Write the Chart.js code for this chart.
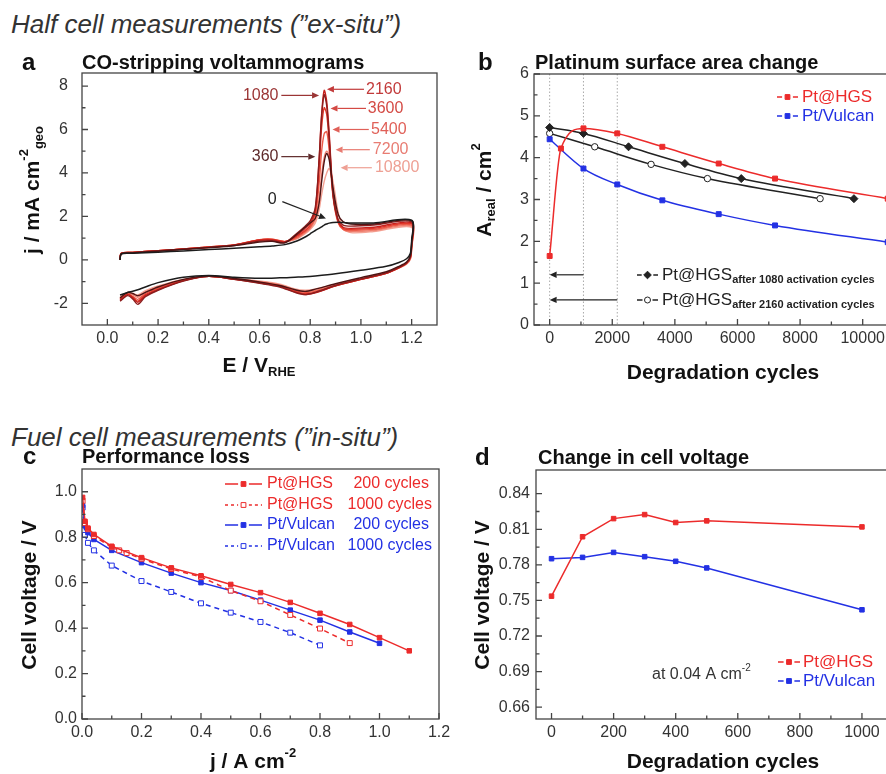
<!DOCTYPE html>
<html>
<head>
<meta charset="utf-8">
<script src="https://cdn.jsdelivr.net/npm/chart.js@4.4.1/dist/chart.umd.min.js"></script>
<style>
  html, body { margin: 0; padding: 0; background: #fff; }
  body { width: 886px; height: 774px; position: relative; overflow: hidden; }
  .sec { position: absolute; left: 11px; font: italic 26px "Liberation Sans", Arial, sans-serif; color: #333; white-space: nowrap; }
  .box { position: absolute; }
</style>
</head>
<body>
<div class="sec" style="top:9px">Half cell measurements (”ex-situ”)</div>
<div class="sec" style="top:422px">Fuel cell measurements (”in-situ”)</div>
<div class="box" style="left:0;top:0;width:443px;height:415px"><canvas id="chartA"></canvas></div>
<div class="box" style="left:443px;top:0;width:460px;height:415px"><canvas id="chartB"></canvas></div>
<div class="box" style="left:443px;top:415px;width:460px;height:359px"><canvas id="chartD"></canvas></div>
<div class="box" style="left:0;top:415px;width:460px;height:359px"><canvas id="chartC"></canvas></div>
<script>
// ---- panel a: CO-stripping voltammograms (potential in V, current in mA cm-2)
const cvPotAnodic = [0.05, 0.055, 0.1, 0.2, 0.3, 0.4, 0.5, 0.6, 0.65, 0.7, 0.75, 0.78, 0.8, 0.82, 0.835, 0.845, 0.855, 0.865, 0.875, 0.89, 0.91, 0.93, 0.96, 1.05, 1.2];
const cvPotCathodic = [1.2, 1.195, 1.18, 1.15, 1.1, 1.0, 0.9, 0.82, 0.78, 0.74, 0.68, 0.6, 0.5, 0.4, 0.3, 0.2, 0.15, 0.12, 0.1, 0.08, 0.05];
const cvCycles = [0, 360, 1080, 2160, 3600, 5400, 7200, 10800];
const cvAnodic0     = [0.0, 0.27, 0.3, 0.35, 0.41, 0.47, 0.53, 0.6, 0.64, 0.7, 0.88, 1.05, 1.2, 1.35, 1.45, 1.52, 1.6, 1.65, 1.69, 1.72, 1.73, 1.72, 1.7, 1.7, 1.82];
const cvAnodic360   = [0.0, 0.28, 0.32, 0.4, 0.48, 0.56, 0.65, 0.82, 0.85, 0.78, 1.2, 1.5, 1.7, 1.9, 2.6, 3.6, 4.5, 4.9, 4.6, 3.3, 2.1, 1.75, 1.65, 1.65, 1.8];
const cvAnodic1080  = [0.0, 0.29, 0.33, 0.41, 0.49, 0.57, 0.67, 0.86, 0.88, 0.8, 1.25, 1.55, 1.8, 2.4, 4.6, 6.6, 7.6, 7.1, 5.6, 3.0, 1.85, 1.6, 1.55, 1.6, 1.75];
const cvAnodic2160  = [0.0, 0.3, 0.34, 0.42, 0.5, 0.58, 0.68, 0.9, 0.92, 0.82, 1.15, 1.45, 1.7, 2.3, 4.6, 6.7, 7.8, 7.3, 5.8, 3.1, 1.8, 1.5, 1.45, 1.5, 1.7];
const cvAnodic3600  = [0.0, 0.3, 0.34, 0.42, 0.5, 0.59, 0.69, 0.92, 0.94, 0.84, 1.1, 1.35, 1.6, 2.2, 4.2, 6.1, 7.0, 6.7, 5.4, 3.0, 1.75, 1.45, 1.4, 1.45, 1.65];
const cvAnodic5400  = [0.0, 0.3, 0.34, 0.42, 0.5, 0.59, 0.69, 0.93, 0.95, 0.85, 1.05, 1.3, 1.5, 2.0, 3.5, 5.0, 5.8, 5.9, 5.0, 2.9, 1.7, 1.4, 1.35, 1.4, 1.6];
const cvAnodic7200  = [0.0, 0.3, 0.34, 0.42, 0.5, 0.59, 0.69, 0.92, 0.94, 0.84, 1.0, 1.25, 1.45, 1.85, 2.8, 3.9, 4.7, 5.0, 4.8, 3.2, 1.8, 1.4, 1.3, 1.35, 1.55];
const cvAnodic10800 = [0.0, 0.3, 0.34, 0.42, 0.5, 0.58, 0.68, 0.9, 0.92, 0.83, 0.98, 1.2, 1.4, 1.7, 2.3, 3.0, 3.6, 4.0, 4.2, 3.6, 2.2, 1.45, 1.25, 1.3, 1.5];
const cvCathodic0     = [0.9, 0.3, 0.05, -0.12, -0.3, -0.48, -0.64, -0.74, -0.78, -0.8, -0.83, -0.85, -0.8, -0.72, -0.8, -1.05, -1.25, -1.38, -1.45, -1.5, -1.62];
const cvCathodic360   = [0.8, 0.2, -0.1, -0.3, -0.55, -0.82, -1.1, -1.35, -1.45, -1.38, -1.18, -1.02, -0.86, -0.74, -0.9, -1.25, -1.5, -1.65, -1.55, -1.5, -1.75];
const cvCathodic1080  = [0.75, 0.15, -0.15, -0.35, -0.6, -0.88, -1.18, -1.5, -1.6, -1.5, -1.25, -1.08, -0.9, -0.76, -0.98, -1.4, -1.7, -2.05, -1.8, -1.65, -1.9];
const cvCathodic2160  = [0.7, 0.12, -0.15, -0.36, -0.62, -0.9, -1.2, -1.52, -1.6, -1.48, -1.22, -1.06, -0.9, -0.76, -0.96, -1.38, -1.65, -1.95, -1.75, -1.6, -1.85];
const cvCathodic3600  = [0.65, 0.1, -0.16, -0.36, -0.62, -0.9, -1.2, -1.5, -1.55, -1.45, -1.2, -1.05, -0.89, -0.76, -0.95, -1.35, -1.6, -1.9, -1.72, -1.58, -1.82];
const cvCathodic5400  = [0.6, 0.08, -0.17, -0.37, -0.62, -0.9, -1.18, -1.45, -1.5, -1.42, -1.18, -1.03, -0.88, -0.76, -0.93, -1.3, -1.55, -1.82, -1.68, -1.55, -1.8];
const cvCathodic7200  = [0.55, 0.05, -0.18, -0.37, -0.6, -0.88, -1.15, -1.4, -1.45, -1.38, -1.15, -1.0, -0.87, -0.76, -0.92, -1.25, -1.48, -1.72, -1.6, -1.52, -1.75];
const cvCathodic10800 = [0.5, 0.02, -0.2, -0.38, -0.6, -0.86, -1.12, -1.35, -1.4, -1.34, -1.12, -0.98, -0.86, -0.75, -0.9, -1.2, -1.42, -1.62, -1.55, -1.5, -1.7];
const cvColors = ['#1c1c1c', '#4e1414', '#8c1d1d', '#c8211d', '#e2382a', '#ec5c4a', '#f08272', '#f4a294'];
const cvXTicks = [0, 0.2, 0.4, 0.6, 0.8, 1.0, 1.2];
const cvYTicks = [-2, 0, 2, 4, 6, 8];

// ---- panel b: platinum surface area vs degradation cycles
const hgsCycles = [0, 360, 1080, 2160, 3600, 5400, 7200, 10800];
const hgsArea = [1.65, 4.22, 4.70, 4.58, 4.26, 3.86, 3.50, 3.02];
const vulcanCycles = [0, 1080, 2160, 3600, 5400, 7200, 10800];
const vulcanArea = [4.44, 3.74, 3.36, 2.98, 2.65, 2.38, 1.98];
const act1080Cycles = [0, 1080, 2520, 4320, 6120, 9720];
const act1080Area = [4.72, 4.58, 4.26, 3.86, 3.50, 3.02];
const act2160Cycles = [0, 1440, 3240, 5040, 8640];
const act2160Area = [4.58, 4.26, 3.84, 3.50, 3.02];
const areaXTicks = [0, 2000, 4000, 6000, 8000, 10000];
const areaYTicks = [0, 1, 2, 3, 4, 5, 6];

// ---- panel c: polarisation curves
const jHgs200 = [0.002, 0.01, 0.02, 0.04, 0.1, 0.2, 0.3, 0.4, 0.5, 0.6, 0.7, 0.8, 0.9, 1.0, 1.1];
const vHgs200 = [0.975, 0.87, 0.84, 0.812, 0.76, 0.71, 0.665, 0.63, 0.592, 0.556, 0.513, 0.465, 0.416, 0.358, 0.30];
const jHgs1000 = [0.002, 0.01, 0.02, 0.04, 0.1, 0.125, 0.15, 0.2, 0.3, 0.4, 0.5, 0.6, 0.7, 0.8, 0.9];
const vHgs1000 = [0.96, 0.862, 0.835, 0.805, 0.756, 0.742, 0.73, 0.705, 0.66, 0.625, 0.565, 0.518, 0.458, 0.398, 0.334];
const jVul200 = [0.002, 0.01, 0.02, 0.04, 0.1, 0.2, 0.3, 0.4, 0.5, 0.6, 0.7, 0.8, 0.9, 1.0];
const vVul200 = [0.94, 0.85, 0.82, 0.79, 0.742, 0.688, 0.642, 0.60, 0.565, 0.523, 0.479, 0.435, 0.383, 0.333];
const jVul1000 = [0.002, 0.01, 0.02, 0.04, 0.1, 0.2, 0.3, 0.4, 0.5, 0.6, 0.7, 0.8];
const vVul1000 = [0.93, 0.81, 0.775, 0.742, 0.675, 0.607, 0.559, 0.509, 0.468, 0.427, 0.38, 0.324];
const polXTicks = [0, 0.2, 0.4, 0.6, 0.8, 1.0, 1.2];
const polYTicks = [0, 0.2, 0.4, 0.6, 0.8, 1.0];

// ---- panel d: cell voltage at 0.04 A cm-2
const voltCycles = [0, 100, 200, 300, 400, 500, 1000];
const voltHgs = [0.7536, 0.8037, 0.819, 0.8224, 0.8157, 0.8171, 0.812];
const voltVulcan = [0.7852, 0.7863, 0.7905, 0.7869, 0.783, 0.7774, 0.7421];
const voltXTicks = [0, 200, 400, 600, 800, 1000];
const voltYTicks = [0.66, 0.69, 0.72, 0.75, 0.78, 0.81, 0.84];

const FONT = '"Liberation Sans", Arial, sans-serif';
const RED = '#ec2b2b', BLUE = '#2331e4', INK = '#222';

const pts = (xs, ys) => xs.map((x, i) => ({ x, y: ys[i] }));
const fontOf = (size, bold, italic) => (italic ? 'italic ' : '') + (bold ? 'bold ' : '') + size + 'px ' + FONT;

function drawRich(ctx, segs, x, y, o) {
  const size = o.size || 16;
  ctx.save();
  const parts = segs.map(s => {
    const k = s[1] || '';
    const sz = k ? Math.round(size * (o.small || 0.62)) : size;
    const bold = s[2] !== undefined ? s[2] : !!o.bold;
    const font = fontOf(sz, bold, o.italic);
    ctx.font = font;
    return { t: s[0], k, font, w: ctx.measureText(s[0]).width };
  });
  const total = parts.reduce((a, p) => a + p.w, 0);
  ctx.translate(x, y);
  if (o.rotate) ctx.rotate(-Math.PI / 2);
  let cx = o.align === 'center' ? -total / 2 : o.align === 'right' ? -total : 0;
  ctx.fillStyle = o.color || INK;
  ctx.textBaseline = 'middle';
  ctx.textAlign = 'left';
  parts.forEach(p => {
    ctx.font = p.font;
    const dy = p.k === 'sup' ? -size * 0.42 : p.k === 'sub' ? size * 0.32 : 0;
    ctx.fillText(p.t, cx, dy);
    cx += p.w;
  });
  ctx.restore();
}

function drawMarker(ctx, style, x, y, r, color, filled) {
  ctx.beginPath();
  if (style === 'rect') { const s = r * Math.SQRT1_2; ctx.rect(x - s, y - s, 2 * s, 2 * s); }
  else if (style === 'rectRot') { ctx.moveTo(x, y - r); ctx.lineTo(x + r, y); ctx.lineTo(x, y + r); ctx.lineTo(x - r, y); ctx.closePath(); }
  else ctx.arc(x, y, r, 0, 2 * Math.PI);
  ctx.fillStyle = filled ? color : '#fff';
  ctx.fill();
  ctx.strokeStyle = color;
  ctx.lineWidth = 1;
  ctx.stroke();
}

function arrow(ctx, x1, y1, x2, y2, color) {
  const a = Math.atan2(y2 - y1, x2 - x1), L = 7, W = 3.2;
  ctx.save();
  ctx.strokeStyle = color; ctx.fillStyle = color; ctx.lineWidth = 1.2;
  ctx.beginPath(); ctx.moveTo(x1, y1); ctx.lineTo(x2 - L * Math.cos(a), y2 - L * Math.sin(a)); ctx.stroke();
  ctx.beginPath();
  ctx.moveTo(x2, y2);
  ctx.lineTo(x2 - L * Math.cos(a) + W * Math.sin(a), y2 - L * Math.sin(a) - W * Math.cos(a));
  ctx.lineTo(x2 - L * Math.cos(a) - W * Math.sin(a), y2 - L * Math.sin(a) + W * Math.cos(a));
  ctx.closePath(); ctx.fill();
  ctx.restore();
}

// box, inward ticks, titles, legends and notes drawn on top of each chart
function deco(spec) {
  return {
    id: 'deco',
    beforeDatasetsDraw(chart) {
      const { ctx, chartArea: a, scales } = chart;
      (spec.vlines || []).forEach(v => {
        const x = scales.x.getPixelForValue(v);
        ctx.save();
        ctx.strokeStyle = '#aaa'; ctx.lineWidth = 1; ctx.setLineDash([1.5, 2]);
        ctx.beginPath(); ctx.moveTo(x, a.top); ctx.lineTo(x, a.bottom); ctx.stroke();
        ctx.restore();
      });
    },
    afterDraw(chart) {
      const { ctx, chartArea: a, scales } = chart;
      const X = v => scales.x.getPixelForValue(v), Y = v => scales.y.getPixelForValue(v);
      ctx.save();
      ctx.strokeStyle = '#444'; ctx.lineWidth = 1.3;
      ctx.strokeRect(a.left, a.top, a.right - a.left, a.bottom - a.top);
      ctx.beginPath();
      const tk = (vals, len, horiz) => vals.forEach(v => {
        if (horiz) { const x = X(v); ctx.moveTo(x, a.bottom); ctx.lineTo(x, a.bottom - len); }
        else { const y = Y(v); ctx.moveTo(a.left, y); ctx.lineTo(a.left + len, y); }
      });
      tk(spec.xMajor, 6, true); tk(spec.xMinor || [], 3.5, true);
      tk(spec.yMajor, 6, false); tk(spec.yMinor || [], 3.5, false);
      ctx.stroke();
      ctx.restore();

      drawRich(ctx, [[spec.letter]], spec.letterPos[0], spec.letterPos[1], { size: 24, bold: true, color: '#111' });
      drawRich(ctx, [[spec.title]], spec.titlePos[0], spec.titlePos[1], { size: 20, bold: true, color: '#111' });
      drawRich(ctx, spec.xTitle, spec.xTitlePos[0], spec.xTitlePos[1], { size: 21, bold: true, align: 'center', color: '#111' });
      drawRich(ctx, spec.yTitle, spec.yTitlePos[0], spec.yTitlePos[1], { size: 21, bold: true, align: 'center', rotate: true, color: '#111' });

      (spec.arrows || []).forEach(r => arrow(ctx, X(r.from[0]), Y(r.from[1]), X(r.to[0]), Y(r.to[1]), r.color));
      (spec.notes || []).forEach(n => {
        const x = n.data ? X(n.at[0]) : n.at[0], y = n.data ? Y(n.at[1]) : n.at[1];
        drawRich(ctx, n.segs, x, y, { size: n.size || 16, align: n.align || 'left', color: n.color });
      });
      (spec.legend || []).forEach(e => {
        const r = e.r || 3, mid = (e.x1 + e.x2) / 2, gap = r + 2;
        ctx.save();
        ctx.strokeStyle = e.color; ctx.lineWidth = 1.5;
        if (e.dash) ctx.setLineDash(e.dash);
        ctx.beginPath();
        ctx.moveTo(e.x1, e.y); ctx.lineTo(mid - gap, e.y);
        ctx.moveTo(mid + gap, e.y); ctx.lineTo(e.x2, e.y);
        ctx.stroke();
        ctx.restore();
        drawMarker(ctx, e.marker, mid, e.y, r, e.color, e.filled !== false);
        drawRich(ctx, e.segs, e.tx, e.y, { size: e.size || 16, color: e.textColor || e.color });
        if (e.extra) drawRich(ctx, [[e.extra]], e.ex, e.y, { size: e.size || 16, color: e.textColor || e.color, align: 'right' });
      });
    }
  };
}

function makeChart(id, geo, datasets, axes, spec) {
  const fmt = axes.fmt;
  const scaleBase = (min, max, ticks, dec) => ({
    type: 'linear', min, max,
    afterBuildTicks: s => { s.ticks = ticks.map(v => ({ value: v })); },
    grid: { display: false, drawTicks: false },
    border: { display: false },
    ticks: { color: '#333', font: { size: 16, family: FONT }, autoSkip: false, maxRotation: 0,
             callback: v => v.toFixed(dec) }
  });
  const x = scaleBase(axes.x[0], axes.x[1], axes.x[2], fmt[0]);
  x.ticks.padding = 4;
  x.afterFit = s => { s.height = geo.xh; s.paddingLeft = 0; s.paddingRight = 0; };
  const y = scaleBase(axes.y[0], axes.y[1], axes.y[2], fmt[1]);
  y.ticks.padding = axes.yPad;
  y.afterFit = s => { s.width = geo.yw; s.paddingTop = 0; s.paddingBottom = 0; };
  return new Chart(document.getElementById(id), {
    type: 'line',
    data: { datasets },
    options: {
      responsive: true, maintainAspectRatio: false, animation: false,
      layout: { padding: { left: 0, top: geo.top, right: geo.right, bottom: 0 } },
      plugins: { legend: { display: false }, tooltip: { enabled: false } },
      elements: { line: { borderWidth: 1.5 } },
      scales: { x, y }
    },
    plugins: [deco(spec)]
  });
}

// ---------------- panel a
const cvAnodic = [cvAnodic0, cvAnodic360, cvAnodic1080, cvAnodic2160, cvAnodic3600, cvAnodic5400, cvAnodic7200, cvAnodic10800];
const cvCathodic = [cvCathodic0, cvCathodic360, cvCathodic1080, cvCathodic2160, cvCathodic3600, cvCathodic5400, cvCathodic7200, cvCathodic10800];
const cvSets = cvCycles.map((c, i) => ({
  label: String(c),
  data: pts(cvPotAnodic, cvAnodic[i]).concat(pts(cvPotCathodic, cvCathodic[i])),
  borderColor: cvColors[i], borderWidth: i === 0 ? 1.5 : 1.4,
  pointRadius: 0, tension: 0.3, fill: false
}));
const cvLabelColors = ['#222', '#5e2a2a', '#9b3535', '#c23a3a', '#d44a44', '#e06058', '#e87c72', '#eea094'];
makeChart('chartA', { top: 73, right: 6, yw: 82, xh: 90 }, cvSets,
  { x: [-0.1, 1.3, cvXTicks], y: [-3, 8.6, cvYTicks], fmt: [1, 0], yPad: 14 },
  {
    letter: 'a', letterPos: [22, 63], title: 'CO-stripping voltammograms', titlePos: [82, 63],
    xTitle: [['E / V'], ['RHE', 'sub']], xTitlePos: [259, 366],
    yTitle: [['j / mA cm'], ['-2', 'sup'], ['geo', 'sub']], yTitlePos: [33, 190],
    xMajor: cvXTicks, xMinor: [0.1, 0.3, 0.5, 0.7, 0.9, 1.1],
    yMajor: cvYTicks, yMinor: [-1, 1, 3, 5, 7],
    arrows: [
      { from: [0.686, 7.57], to: [0.835, 7.57], color: cvLabelColors[2] },
      { from: [1.012, 7.85], to: [0.866, 7.85], color: cvLabelColors[3] },
      { from: [1.02, 6.97], to: [0.88, 6.97], color: cvLabelColors[4] },
      { from: [1.031, 6.0], to: [0.888, 6.0], color: cvLabelColors[5] },
      { from: [1.035, 5.07], to: [0.9, 5.07], color: cvLabelColors[6] },
      { from: [1.043, 4.24], to: [0.92, 4.24], color: cvLabelColors[7] },
      { from: [0.686, 4.75], to: [0.82, 4.75], color: cvLabelColors[1] },
      { from: [0.69, 2.68], to: [0.862, 1.9], color: cvLabelColors[0] }
    ],
    notes: [
      { data: true, at: [0.675, 7.57], segs: [['1080']], align: 'right', color: cvLabelColors[2] },
      { data: true, at: [1.02, 7.85], segs: [['2160']], color: cvLabelColors[3] },
      { data: true, at: [1.027, 6.97], segs: [['3600']], color: cvLabelColors[4] },
      { data: true, at: [1.04, 6.0], segs: [['5400']], color: cvLabelColors[5] },
      { data: true, at: [1.047, 5.07], segs: [['7200']], color: cvLabelColors[6] },
      { data: true, at: [1.055, 4.24], segs: [['10800']], color: cvLabelColors[7] },
      { data: true, at: [0.675, 4.75], segs: [['360']], align: 'right', color: cvLabelColors[1] },
      { data: true, at: [0.65, 2.78], segs: [['0']], align: 'center', color: cvLabelColors[0] }
    ]
  });

// ---------------- panel b
makeChart('chartB', { top: 74, right: 9, yw: 91, xh: 90 }, [
  { data: pts(hgsCycles, hgsArea), borderColor: RED, pointStyle: 'rect', pointRadius: 3.5,
    pointBackgroundColor: RED, pointBorderColor: RED, cubicInterpolationMode: 'monotone' },
  { data: pts(vulcanCycles, vulcanArea), borderColor: BLUE, pointStyle: 'rect', pointRadius: 3.5,
    pointBackgroundColor: BLUE, pointBorderColor: BLUE, cubicInterpolationMode: 'monotone' },
  { data: pts(act1080Cycles, act1080Area), borderColor: INK, pointStyle: 'rectRot', pointRadius: 4,
    pointBackgroundColor: INK, pointBorderColor: INK, cubicInterpolationMode: 'monotone' },
  { data: pts(act2160Cycles, act2160Area), borderColor: INK, pointStyle: 'circle', pointRadius: 3.2,
    pointBackgroundColor: '#fff', pointBorderColor: INK, cubicInterpolationMode: 'monotone' }
], { x: [-500, 11000, areaXTicks], y: [0, 6, areaYTicks], fmt: [0, 0], yPad: 5 },
  {
    letter: 'b', letterPos: [35, 63], title: 'Platinum surface area change', titlePos: [92, 63],
    xTitle: [['Degradation cycles']], xTitlePos: [280, 373],
    yTitle: [['A'], ['real', 'sub'], [' / cm'], ['2', 'sup']], yTitlePos: [42, 190],
    xMajor: areaXTicks, xMinor: [1000, 3000, 5000, 7000, 9000],
    yMajor: areaYTicks, yMinor: [0.5, 1.5, 2.5, 3.5, 4.5, 5.5],
    vlines: [0, 1080, 2160],
    arrows: [
      { from: [1080, 1.2], to: [0, 1.2], color: INK },
      { from: [2160, 0.6], to: [0, 0.6], color: INK }
    ],
    legend: [
      { x1: 334, x2: 355, y: 97, color: RED, marker: 'rect', r: 3.4, segs: [['Pt@HGS']], tx: 359, size: 17 },
      { x1: 334, x2: 355, y: 116, color: BLUE, marker: 'rect', r: 3.4, segs: [['Pt/Vulcan']], tx: 359, size: 17 },
      { x1: 194, x2: 215, y: 275, color: INK, marker: 'rectRot', r: 3.8, segs: [['Pt@HGS'], ['after 1080 activation cycles', 'sub', true]], tx: 219, size: 17 },
      { x1: 194, x2: 215, y: 300, color: INK, marker: 'circle', filled: false, r: 3, segs: [['Pt@HGS'], ['after 2160 activation cycles', 'sub', true]], tx: 219, size: 17 }
    ]
  });

// ---------------- panel c
makeChart('chartC', { top: 54, right: 21, yw: 82, xh: 55 }, [
  { data: pts(jHgs200, vHgs200), borderColor: RED, pointStyle: 'rect', pointRadius: 3.2,
    pointBackgroundColor: RED, pointBorderColor: RED },
  { data: pts(jHgs1000, vHgs1000), borderColor: RED, borderDash: [5, 4], pointStyle: 'rect', pointRadius: 3.5,
    pointBackgroundColor: '#fff', pointBorderColor: RED },
  { data: pts(jVul200, vVul200), borderColor: BLUE, pointStyle: 'rect', pointRadius: 3.2,
    pointBackgroundColor: BLUE, pointBorderColor: BLUE },
  { data: pts(jVul1000, vVul1000), borderColor: BLUE, borderDash: [5, 4], pointStyle: 'rect', pointRadius: 3.5,
    pointBackgroundColor: '#fff', pointBorderColor: BLUE }
], { x: [0, 1.2, polXTicks], y: [0, 1.1, polYTicks], fmt: [1, 1], yPad: 5 },
  {
    letter: 'c', letterPos: [23, 42], title: 'Performance loss', titlePos: [82, 42],
    xTitle: [['j / A cm'], ['-2', 'sup']], xTitlePos: [253, 347],
    yTitle: [['Cell voltage / V']], yTitlePos: [30, 180],
    xMajor: polXTicks, xMinor: [0.1, 0.3, 0.5, 0.7, 0.9, 1.1],
    yMajor: polYTicks, yMinor: [0.1, 0.3, 0.5, 0.7, 0.9],
    legend: [
      { x1: 225, x2: 262, y: 69, color: RED, marker: 'rect', r: 3.4, segs: [['Pt@HGS']], tx: 267, extra: '200 cycles', ex: 429 },
      { x1: 225, x2: 262, y: 90, color: RED, dash: [3, 3], marker: 'rect', filled: false, r: 3.4, segs: [['Pt@HGS']], tx: 267, extra: '1000 cycles', ex: 432 },
      { x1: 225, x2: 262, y: 110, color: BLUE, marker: 'rect', r: 3.4, segs: [['Pt/Vulcan']], tx: 267, extra: '200 cycles', ex: 429 },
      { x1: 225, x2: 262, y: 131, color: BLUE, dash: [3, 3], marker: 'rect', filled: false, r: 3.4, segs: [['Pt/Vulcan']], tx: 267, extra: '1000 cycles', ex: 432 }
    ]
  });

// ---------------- panel d
makeChart('chartD', { top: 55, right: 10, yw: 93, xh: 55 }, [
  { data: pts(voltCycles, voltHgs), borderColor: RED, pointStyle: 'rect', pointRadius: 3.2,
    pointBackgroundColor: RED, pointBorderColor: RED },
  { data: pts(voltCycles, voltVulcan), borderColor: BLUE, pointStyle: 'rect', pointRadius: 3.2,
    pointBackgroundColor: BLUE, pointBorderColor: BLUE }
], { x: [-50, 1100, voltXTicks], y: [0.65, 0.86, voltYTicks], fmt: [0, 2], yPad: 6 },
  {
    letter: 'd', letterPos: [32, 43], title: 'Change in cell voltage', titlePos: [95, 43],
    xTitle: [['Degradation cycles']], xTitlePos: [280, 347],
    yTitle: [['Cell voltage / V']], yTitlePos: [40, 180],
    xMajor: voltXTicks, xMinor: [100, 300, 500, 700, 900],
    yMajor: voltYTicks, yMinor: [0.675, 0.705, 0.735, 0.765, 0.795, 0.825],
    notes: [
      { at: [209, 260], segs: [['at 0.04 A cm'], ['-2', 'sup']], color: '#333' }
    ],
    legend: [
      { x1: 335, x2: 357, y: 247, color: RED, marker: 'rect', r: 3.4, segs: [['Pt@HGS']], tx: 360, size: 17 },
      { x1: 335, x2: 357, y: 266, color: BLUE, marker: 'rect', r: 3.4, segs: [['Pt/Vulcan']], tx: 360, size: 17 }
    ]
  });
</script>
</body>
</html>
